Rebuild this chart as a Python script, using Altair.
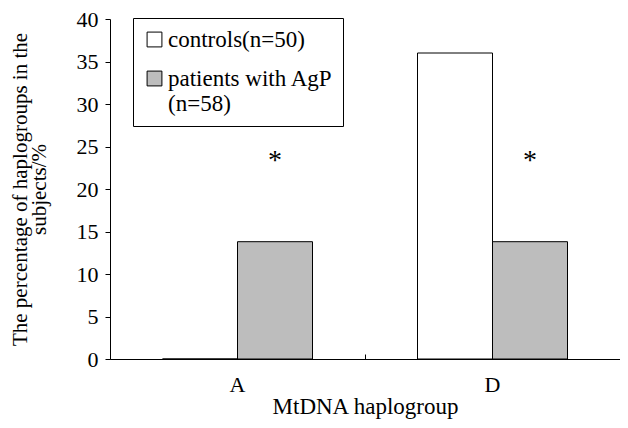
import altair as alt
import pandas as pd

groups = ["A", "D"]
series_keys = ["controls", "patients"]
controls = [0, 36]
patients = [13.8, 13.8]
star_level = [23.3, 23.3]

rows = []
for i, g in enumerate(groups):
    rows.append({"group": g, "series": "controls", "value": controls[i]})
    rows.append({"group": g, "series": "patients", "value": patients[i]})
df = pd.DataFrame(rows)
stars = pd.DataFrame({"group": groups, "series": ["patients"] * 2, "value": star_level})

FONT = "Liberation Serif"
FS = 22
x_scale = alt.Scale(domain=groups, paddingInner=0, paddingOuter=0)
xo_scale = alt.Scale(domain=series_keys, paddingInner=0, paddingOuter=0.7)
y_scale = alt.Scale(domain=[0, 40])

y_axis = alt.Axis(values=list(range(0, 41, 5)), grid=False, domainColor="black",
                  tickColor="black", tickSize=5, labelFont=FONT, labelFontSize=FS,
                  labelColor="black", labelPadding=7,
                  title=["The percentage of haplogroups in the", "subjects/%"],
                  titleFont=FONT, titleFontSize=21, titleFontWeight="normal",
                  titleColor="black", titlePadding=27, titleLineHeight=19)

bars = alt.Chart(df).mark_bar(stroke="black", strokeWidth=1).encode(
    x=alt.X("group:N", scale=x_scale, sort=groups,
            axis=alt.Axis(orient="bottom", domain=True, domainColor="black", domainWidth=1,
                          ticks=False, labelAngle=0, labelFont=FONT, labelFontSize=FS,
                          labelColor="black", labelPadding=15, title="MtDNA haplogroup",
                          titleFont=FONT, titleFontSize=23, titleFontWeight="normal",
                          titleColor="black", titlePadding=0)),
    xOffset=alt.XOffset("series:N", scale=xo_scale, sort=series_keys),
    y=alt.Y("value:Q", scale=y_scale, axis=y_axis),
    color=alt.Color("series:N", sort=series_keys,
                    scale=alt.Scale(domain=series_keys, range=["white", "#bdbdbd"]),
                    legend=alt.Legend(orient="none", legendX=23, legendY=-1, title=None,
                                      strokeColor="black", fillColor="white", padding=10,
                                      symbolType="square", symbolSize=220,
                                      symbolStrokeColor="black", symbolStrokeWidth=1,
                                      labelFont=FONT, labelFontSize=23, labelColor="black",
                                      labelLimit=400, rowPadding=15, labelOffset=2,
                                      labelExpr="datum.value == 'patients' ? ['patients with AgP', '(n=58)'] : 'controls(n=50)'")),
)

tick_layer = alt.Chart(df).mark_bar(opacity=0).encode(
    x=alt.X("group:N", scale=x_scale, sort=groups,
            axis=alt.Axis(orient="bottom", offset=-5, domain=False, labels=False, ticks=True,
                          tickBand="extent", tickSize=5, tickColor="black", title=None)),
    xOffset=alt.XOffset("series:N", scale=xo_scale, sort=series_keys),
    y=alt.Y("value:Q", scale=y_scale, axis=y_axis),
)

star_text = alt.Chart(stars).mark_text(text="*", font=FONT, fontSize=28, color="black",
                                       baseline="middle").encode(
    x=alt.X("group:N", scale=x_scale, sort=groups, axis=None),
    xOffset=alt.XOffset("series:N", scale=xo_scale, sort=series_keys),
    y=alt.Y("value:Q", scale=y_scale, axis=y_axis),
)

chart = alt.layer(bars, star_text, tick_layer).resolve_axis(x="independent").properties(
    width=510, height=340,
    autosize=alt.AutoSizeParams(type="none"),
    padding={"left": 102, "top": 11, "right": 0, "bottom": 61},
).configure_view(stroke=None)

chart.save("out.html", embed_options={"renderer": "svg", "actions": False})
